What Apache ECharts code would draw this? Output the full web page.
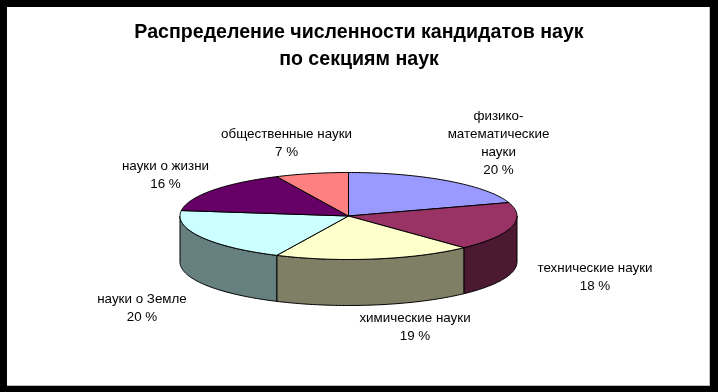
<!DOCTYPE html>
<html><head><meta charset="utf-8">
<style>html,body{margin:0;padding:0;background:#000}#c{width:718px;height:392px}</style>
<script src="https://cdn.jsdelivr.net/npm/echarts@6/dist/echarts.min.js"></script>
</head><body><div id="c"></div>
<script>
const categories = ['физико-\nматематические\nнауки','технические науки','химические науки','науки о Земле','науки о жизни','общественные науки'];
const shares = [20,18,19,20,16,7];
const topColors = ['#9999FF','#993366','#FFFFCC','#CCFFFF','#660066','#FF8080'];
const sideColors = ['#4C4C7F','#4C1933','#7F7F66','#667F7F','#330033','#7F4040'];
const labelCentres = [[498.5,143],[595,277],[415,327],[142,308],[165.5,175],[286.5,143]];

const cx=348.5, cy=216, rx=168.5, ry=43.5, depth=46;
const total = shares.reduce((a,b)=>a+b,0);
let run=0;
const starts = shares.map(v=>{const s=run; run+=v; return s;});
const pt=(deg,dy)=>{const r=deg*Math.PI/180; return [cx+rx*Math.sin(r), cy-ry*Math.cos(r)+(dy||0)];};
const arc=(a,b,dy)=>{const out=[],n=Math.max(2,Math.ceil(Math.abs(b-a)));for(let i=0;i<=n;i++)out.push(pt(a+(b-a)*i/n,dy));return out;};

function renderSide(params,api){
  const a=api.value(1)/total*360, b=(api.value(1)+api.value(0))/total*360;
  const s=Math.max(a,90), e=Math.min(b,270);
  if(e<=s) return {type:'group',children:[]};
  const pts=arc(s,e,0).concat(arc(e,s,depth));
  return {type:'polygon',shape:{points:pts},style:{fill:sideColors[params.dataIndex],stroke:'#000',lineWidth:1}};
}
function renderTop(params,api){
  const a=api.value(1)/total*360, b=(api.value(1)+api.value(0))/total*360;
  const pts=[[cx,cy]].concat(arc(a,b,0));
  return {type:'polygon',shape:{points:pts},style:{fill:topColors[params.dataIndex],stroke:'#000',lineWidth:1}};
}
const rows=shares.map((v,i)=>[v,starts[i]]);
const labelStyle={fontFamily:'Liberation Sans',fontSize:13.4,lineHeight:18,fill:'#000',align:'center',verticalAlign:'middle'};

const chart=echarts.init(document.getElementById('c'),null,{renderer:'canvas'});
chart.setOption({
  animation:false,
  backgroundColor:'#000',
  graphic:[
    {type:'rect',z:-1,shape:{x:7,y:7,width:703,height:379},style:{fill:'#c0c0c0'}},
    {type:'rect',z:-1,shape:{x:7,y:7,width:702,height:378},style:{fill:'#fff'}},
    ...categories.map((c,i)=>({type:'text',z:5,x:labelCentres[i][0],y:labelCentres[i][1],
      style:Object.assign({text:c+'\n'+shares[i]+' %'},labelStyle)}))
  ],
  title:{text:'Распределение численности кандидатов наук\nпо секциям наук',left:359,top:19,padding:0,textAlign:'center',
    textStyle:{fontFamily:'Liberation Sans',fontWeight:'bold',fontSize:19.6,lineHeight:27,color:'#000'}},
  series:[
    {type:'custom',coordinateSystem:'none',renderItem:renderSide,data:rows,z:2},
    {type:'custom',coordinateSystem:'none',renderItem:renderTop,data:rows,z:3}
  ]
});
</script></body></html>
